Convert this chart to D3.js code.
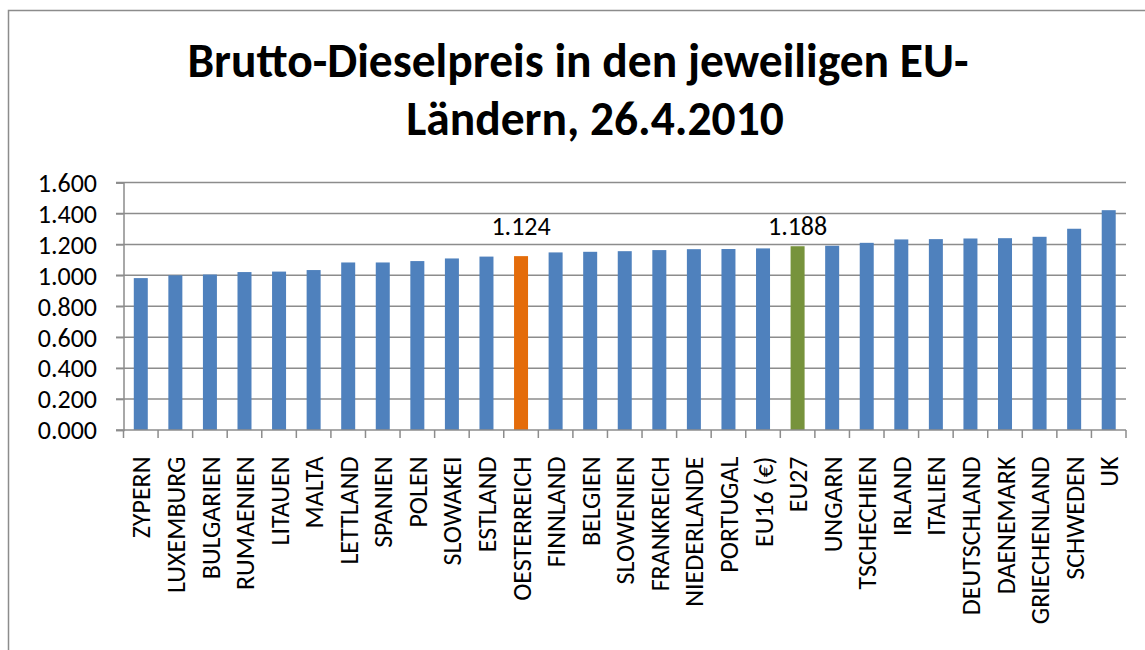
<!DOCTYPE html>
<html>
<head>
<meta charset="utf-8">
<script src="https://cdn.jsdelivr.net/npm/d3@7"></script>
<style>
  body { margin: 0; background: #fff; }
  svg { display: block; font-family: Calibri, Carlito, Lato, sans-serif; }
  .grid line { stroke: #8c8c8c; stroke-width: 1.5; }
  .axis path, .axis line { stroke: #8c8c8c; stroke-width: 1.5; }
  .axis text { fill: #000; }
</style>
</head>
<body>
<div id="chart"></div>
<script>
const titleLines = ['Brutto-Dieselpreis in den jeweiligen EU-', 'Ländern, 26.4.2010'];

const countries = [
  'ZYPERN', 'LUXEMBURG', 'BULGARIEN', 'RUMAENIEN', 'LITAUEN', 'MALTA',
  'LETTLAND', 'SPANIEN', 'POLEN', 'SLOWAKEI', 'ESTLAND', 'OESTERREICH',
  'FINNLAND', 'BELGIEN', 'SLOWENIEN', 'FRANKREICH', 'NIEDERLANDE', 'PORTUGAL',
  'EU16 (€)', 'EU27', 'UNGARN', 'TSCHECHIEN', 'IRLAND', 'ITALIEN',
  'DEUTSCHLAND', 'DAENEMARK', 'GRIECHENLAND', 'SCHWEDEN', 'UK',
];

const prices = [
  0.982, 1.000, 1.005, 1.021, 1.024, 1.034,
  1.083, 1.083, 1.092, 1.109, 1.121, 1.124,
  1.148, 1.152, 1.156, 1.163, 1.169, 1.170,
  1.174, 1.188, 1.191, 1.210, 1.232, 1.234,
  1.238, 1.240, 1.249, 1.301, 1.421,
];

const yTicks = [0, 0.2, 0.4, 0.6, 0.8, 1.0, 1.2, 1.4, 1.6];

// bars that are highlighted and get a value label
const highlighted = ['OESTERREICH', 'EU27'];
const labelLevel = 1.26; // both labels sit at the same height

const data = countries.map((c, i) => ({ country: c, price: prices[i] }));

const width = 1145, height = 650;
const margin = { top: 182.5, right: 19, bottom: 220, left: 123.5 };

const colors = { default: '#4f81bd', OESTERREICH: '#e46c0a', EU27: '#77933c' };

const svg = d3.select('#chart').append('svg')
  .attr('width', width)
  .attr('height', height);

// chart frame (runs off the right and bottom edge)
svg.append('rect')
  .attr('x', 8.5).attr('y', 10.5)
  .attr('width', 1200).attr('height', 700)
  .attr('fill', 'none')
  .attr('stroke', '#8c8c8c')
  .attr('stroke-width', 1.5);

const x = d3.scaleBand()
  .domain(countries)
  .range([margin.left, width - margin.right])
  .paddingInner(0.595)
  .paddingOuter(0.2975);

const y = d3.scaleLinear()
  .domain([0, 1.6])
  .range([height - margin.bottom, margin.top]);

// title
svg.append('g')
  .selectAll('text')
  .data(titleLines)
  .join('text')
  .attr('x', (d, i) => (i === 0 ? 578 : 595))
  .attr('y', (d, i) => 76.5 + i * 58.5)
  .attr('text-anchor', 'middle')
  .attr('font-weight', 'bold')
  .attr('font-size', 47.5)
  .text((d) => d);

// horizontal gridlines with left tick marks
svg.append('g')
  .attr('class', 'grid')
  .selectAll('line')
  .data(yTicks.slice(1))
  .join('line')
  .attr('x1', margin.left - 7.5)
  .attr('x2', width - margin.right)
  .attr('y1', (d) => y(d))
  .attr('y2', (d) => y(d));

// Y axis
const yAxis = svg.append('g')
  .attr('class', 'axis')
  .attr('transform', `translate(${margin.left},0)`)
  .call(d3.axisLeft(y).tickValues(yTicks).tickFormat(d3.format('.3f')).tickSize(7.5).tickPadding(19));
yAxis.attr('font-family', null).attr('font-size', null);
yAxis.selectAll('text').attr('font-size', 26).attr('dy', '0.34em');

// bars
svg.append('g')
  .selectAll('rect')
  .data(data)
  .join('rect')
  .attr('x', (d) => x(d.country))
  .attr('width', x.bandwidth())
  .attr('y', (d) => y(d.price))
  .attr('height', (d) => y(0) - y(d.price))
  .attr('fill', (d) => colors[d.country] || colors.default);

// X axis: line with ticks at category boundaries
const xAxis = svg.append('g')
  .attr('class', 'axis')
  .attr('transform', `translate(0,${y(0)})`);

xAxis.append('line')
  .attr('x1', margin.left - 7.5)
  .attr('x2', width - margin.right);

xAxis.selectAll('.tick')
  .data(countries.concat(['end']))
  .join('line')
  .attr('class', 'tick')
  .attr('x1', (d, i) => margin.left + i * x.step())
  .attr('x2', (d, i) => margin.left + i * x.step())
  .attr('y1', 0)
  .attr('y2', 8);

xAxis.selectAll('text')
  .data(countries)
  .join('text')
  .attr('transform', (d) => `translate(${x(d) + x.bandwidth() / 2 + 1},26.5) rotate(-90)`)
  .attr('text-anchor', 'end')
  .attr('dy', '0.33em')
  .attr('font-size', 26)
  .text((d) => d);

// value labels on highlighted bars
svg.append('g')
  .selectAll('text')
  .data(data.filter((d) => highlighted.includes(d.country)))
  .join('text')
  .attr('x', (d) => x(d.country) + x.bandwidth() / 2)
  .attr('y', y(labelLevel))
  .attr('text-anchor', 'middle')
  .attr('font-size', 26)
  .text((d) => d3.format('.3f')(d.price));
</script>
</body>
</html>
